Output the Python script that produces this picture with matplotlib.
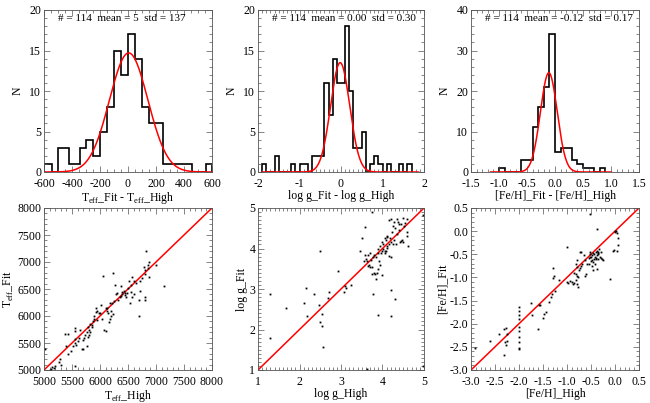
import numpy as np
import matplotlib
matplotlib.use('Agg')
import matplotlib.pyplot as plt
from matplotlib.ticker import MultipleLocator, FormatStrFormatter

plt.rcParams['font.family'] = 'Liberation Serif'
plt.rcParams['mathtext.fontset'] = 'custom'
plt.rcParams['mathtext.rm'] = 'Liberation Serif'
plt.rcParams['axes.unicode_minus'] = False
plt.rcParams['font.size'] = 8.5

# --- histograms (bin edges, counts) ---
teff_edges = [-600, -545, -500, -425, -345, -300, -250, -200, -150, -100, -50, 0,
              50, 100, 150, 250, 455, 555, 600]
teff_counts = [1, 0, 3, 1, 3, 4, 2, 5, 8, 15, 12, 17, 14, 8, 6, 1, 0, 1]

logg_edges = [-1.9, -1.8, -1.6, -1.5, -1.2, -1.1, -1.0, -0.8, -0.7, -0.4, -0.3, -0.2,
              -0.1, 0.1, 0.2, 0.3, 0.5, 0.6, 0.7, 0.8, 0.9, 1.0, 1.1, 1.2, 1.4, 1.5,
              1.6, 1.7]
logg_counts = [1, 0, 2, 0, 1, 0, 1, 0, 2, 11, 7, 14, 11, 18, 10, 3, 5, 0, 1, 2, 1, 0,
               1, 0, 1, 0, 1]

feh_edges = [-1.0, -0.9, -0.6, -0.4, -0.3, -0.2, -0.1, 0.0, 0.1, 0.3, 0.4, 0.5, 0.7,
             0.8, 0.9]
feh_counts = [1, 0, 3, 11, 16, 21, 34, 5, 6, 3, 2, 1, 0, 1]

# gaussian fits: amplitude, centre, sigma, x-range of the drawn curve
teff_fit = (14.7, 5, 137, -600, 600)
logg_fit = (13.5, -0.02, 0.23, -1.9, 1.87)
feh_fit = (24.5, -0.11, 0.15, -1.15, 1.0)

teff_stats = '# = 114  mean = 5  std = 137'
logg_stats = '# = 114  mean = 0.00  std = 0.30'
feh_stats = '# = 114  mean = -0.12  std = 0.17'

# --- scatter: high-res value vs fitted value ---
teff_high = [5030, 5060, 5100, 5130, 5150, 5180, 5200, 5260, 5290, 5310, 5010, 5420,
             5400, 5380, 5430, 5550, 5480, 5520, 5550, 5550, 5560, 5560, 5580, 5600,
             5620, 5650, 5680, 5700, 5700, 5720, 5740, 5760, 5760, 5780, 5800, 5800,
             5780, 5820, 5830, 5850, 5860, 5880, 5900, 5900, 5920, 5930, 5950, 5950,
             5980, 6000, 6020, 6040, 6050, 6070, 6100, 6100, 6120, 6130, 6150, 6170,
             6160, 6180, 6200, 6200, 6220, 6230, 6230, 6250, 6270, 6290, 6300, 6330,
             6350, 6370, 6380, 6400, 6400, 6420, 6440, 6450, 6460, 6480, 6500, 6520,
             6530, 6550, 6560, 6580, 6580, 6600, 6600, 6650, 6700, 6700, 6720, 6720,
             6750, 6780, 6800, 6800, 6800, 6800, 6820, 6850, 6850, 6870, 6880, 7000,
             7150]
teff_fitv = [4980, 4990, 5000, 5020, 5050, 5030, 5080, 5150, 5200, 5100, 5390, 5300,
             5440, 5660, 5670, 5080, 5350, 5450, 5500, 5580, 5720, 5770, 5470, 5540,
             5600, 5750, 5380, 5390, 5550, 5600, 5640, 5450, 5700, 5620, 5640, 5750,
             5800, 5860, 5700, 5830, 5800, 5900, 6000, 5950, 6080, 6150, 6100, 5920,
             6050, 6060, 6200, 5940, 6750, 5750, 5720, 6140, 6150, 6100, 6050, 6250,
             5880, 5950, 6000, 6100, 6250, 6030, 6800, 6270, 6580, 6400, 6420, 6300,
             6350, 6370, 6560, 6400, 6450, 6470, 6380, 6420, 6350, 6430, 6520, 6650,
             6250, 6450, 6580, 6720, 6350, 6650, 6400, 6620, 6300, 6000, 6460, 6650,
             6700, 6900, 6300, 6350, 6850, 6780, 7200, 6950, 6880, 7000, 6730, 6950,
             6550]

logg_high = [1.28, 1.28, 1.68, 2.10, 2.16, 2.18, 2.34, 2.48, 2.50, 2.54, 2.56, 2.54,
             2.50, 2.68, 2.70, 2.92, 3.08, 3.10, 3.12, 3.24, 3.45, 3.50, 3.59, 3.74,
             3.62, 3.55, 3.58, 3.60, 3.62, 3.65, 3.68, 3.70, 3.72, 3.75, 3.78, 3.80,
             3.77, 3.80, 3.82, 3.84, 3.86, 3.88, 3.75, 3.90, 4.00, 3.85, 3.88, 3.90,
             3.92, 3.95, 3.97, 4.00, 4.02, 4.05, 4.05, 4.08, 4.10, 4.12, 4.15, 4.18,
             4.20, 4.20, 4.20, 4.20, 4.22, 4.25, 4.28, 4.30, 4.30, 4.32, 4.35, 4.38,
             4.40, 4.42, 4.45, 4.48, 4.50, 4.52, 4.55, 4.58, 4.60, 4.62, 4.60, 4.15,
             4.20, 4.28, 4.35, 4.40, 4.45, 4.50, 4.08, 4.12, 4.00, 3.95, 4.10, 4.98,
             4.98, 4.02, 4.25, 4.05, 4.15, 3.70, 3.65]
logg_fitv = [1.80, 2.88, 2.52, 2.66, 3.03, 2.34, 2.87, 2.60, 2.19, 2.08, 1.57, 2.38,
             3.95, 2.77, 2.93, 3.45, 2.92, 3.08, 3.02, 3.10, 3.93, 4.25, 4.53, 4.90,
             1.03, 3.70, 3.85, 3.75, 3.68, 3.85, 3.60, 3.55, 3.72, 3.55, 3.80, 3.85,
             2.87, 3.40, 3.36, 3.25, 3.40, 3.50, 3.38, 2.36, 3.35, 3.78, 3.90, 4.00,
             3.70, 3.60, 3.90, 3.95, 4.10, 4.25, 3.95, 4.20, 4.05, 4.30, 4.10, 4.25,
             4.15, 2.97, 2.34, 3.80, 4.40, 4.55, 4.20, 2.75, 4.50, 4.10, 4.35, 4.65,
             4.45, 4.15, 4.60, 4.20, 4.75, 4.55, 4.62, 4.40, 4.30, 4.05, 4.72, 4.70,
             4.72, 4.65, 4.72, 4.60, 4.18, 4.15, 3.95, 4.02, 4.15, 4.05, 4.28, 1.10,
             4.82, 4.00, 4.10, 3.88, 3.82, 3.90, 3.58]

feh_high = [-2.91, -2.61, -2.42, -2.32, -2.28, -2.32, -2.30, -2.27, -2.25, -2.26,
            -2.00, -1.99, -2.00, -1.99, -2.00, -1.99, -2.00, -1.99, -2.00, -1.99,
            -1.76, -1.73, -1.61, -1.59, -1.56, -1.49, -1.47, -1.44, -1.38, -1.33,
            -1.31, -1.30, -1.29, -1.28, -1.26, -1.17,
            -1.00, -1.00, -0.97, -0.93, -0.90, -0.88, -0.85, -0.82, -0.80, -0.78,
            -0.85, -0.82, -0.80, -0.78, -0.82, -0.80, -0.76, -0.72, -0.70, -0.68, -0.80,
            -0.73, -0.70, -0.65, -0.62, -0.58, -0.55, -0.53, -0.52, -0.48, -0.48, -0.45,
            -0.42, -0.52, -0.38, -0.62, -0.60, -0.55, -0.50, -0.47, -0.45, -0.43, -0.40,
            -0.38, -0.36, -0.35, -0.42, -0.40, -0.35, -0.32, -0.30, -0.28, -0.25, -0.30,
            -0.37, -0.50, -0.46, -0.40, -0.10, -0.05, -0.02, 0.00, 0.00, 0.02, 0.05,
            0.07, 0.07, 0.05, -0.35, -0.33, -0.38, -0.44, -0.52]
feh_fitv = [-2.52, -2.37, -2.23, -2.12, -2.10, -2.67, -2.39, -2.45, -2.38, -2.23,
            -1.63, -1.73, -1.81, -1.90, -2.07, -2.15, -2.28, -2.40, -2.52, -2.55,
            -1.55, -1.82, -2.11, -1.59, -1.60, -1.87, -1.79, -1.74, -1.54, -1.43,
            -1.36, -0.79, -1.01, -0.96, -1.30, -1.05,
            -0.34, -1.10, -1.13, -1.08, -1.10, -1.14, -1.11, -1.06, -1.15, -1.20,
            -0.90, -0.93, -0.97, -1.00, -0.70, -0.78, -0.83, -0.80, -0.75, -0.72, -0.62,
            -0.46, -0.45, -0.52, -0.62, -0.72, -0.70, -0.50, -0.46, -0.62, -0.75, -0.85,
            -0.70, 0.37, 0.04, -0.96, -0.93, -0.58, -0.55, -0.52, -0.48, -0.50, -0.45,
            -0.42, -0.48, -0.44, -0.55, -0.58, -0.60, -0.55, -0.58, -0.60, -0.62, -0.45,
            -0.82, -0.65, -0.67, -0.60, -1.03, -0.42, -0.40, -0.02, 0.01, 0.00, -0.04,
            -0.15, -0.30, -0.42, -0.50, -0.38, -0.52, -0.60, -0.56]

fig = plt.figure(figsize=(6.5, 4.03), dpi=100)

W, H = 650.0, 403.0
col_pos = [(44, 212), (258, 424), (471, 639)]


def make_axes(x0, x1, ytop, ybot):
    return fig.add_axes([x0 / W, 1 - ybot / H, (x1 - x0) / W, (ybot - ytop) / H])


def style(ax, xmaj, xmin, ymaj, ymin):
    ax.xaxis.set_major_locator(MultipleLocator(xmaj))
    ax.xaxis.set_minor_locator(MultipleLocator(xmin))
    ax.yaxis.set_major_locator(MultipleLocator(ymaj))
    ax.yaxis.set_minor_locator(MultipleLocator(ymin))
    ax.tick_params(which='both', direction='in', top=True, right=True,
                   color='#555555', width=0.5, labelsize=8.5)
    ax.tick_params(axis='x', pad=4.5)
    ax.tick_params(axis='y', pad=2)
    ax.tick_params(which='major', length=4)
    ax.tick_params(which='minor', length=2)
    for s in ax.spines.values():
        s.set_linewidth(0.6)
        s.set_color('#555555')


hist_sets = [
    (teff_edges, teff_counts, teff_fit, teff_stats, (-600, 600), (0, 20),
     (200, 50, 5, 1), r'T$_{\rm eff}$_Fit - T$_{\rm eff}$_High', None),
    (logg_edges, logg_counts, logg_fit, logg_stats, (-2, 2), (0, 20),
     (1, 0.1, 5, 1), 'log g_Fit - log g_High', None),
    (feh_edges, feh_counts, feh_fit, feh_stats, (-1.5, 1.5), (0, 40),
     (0.5, 0.1, 10, 2), '[Fe/H]_Fit - [Fe/H]_High', '%.1f'),
]

for (x0, x1), (edges, counts, fit, stats, xl, yl, tk, xlab, fmt) in zip(col_pos, hist_sets):
    ax = make_axes(x0, x1, 10, 172)
    ax.stairs(counts, edges, color='black', linewidth=1.2, baseline=0)
    amp, mu, sig, g0, g1 = fit
    gx = np.linspace(g0, g1, 400)
    ax.plot(gx, amp * np.exp(-0.5 * ((gx - mu) / sig) ** 2), color='red', lw=1.1)
    ax.set_xlim(*xl)
    ax.set_ylim(*yl)
    style(ax, *tk)
    if fmt:
        ax.xaxis.set_major_formatter(FormatStrFormatter(fmt))
    ax.set_xlabel(xlab, labelpad=0)
    ax.set_ylabel('N', labelpad=4)
    ax.text(0.085, 0.945, stats, transform=ax.transAxes, ha='left', va='center',
            fontsize=8)

scatter_sets = [
    (teff_high, teff_fitv, (5000, 8000), (500, 100), None,
     r'T$_{\rm eff}$_High', r'T$_{\rm eff}$_Fit'),
    (logg_high, logg_fitv, (1, 5), (1, 0.1), None, 'log g_High', 'log g_Fit'),
    (feh_high, feh_fitv, (-3.0, 0.5), (0.5, 0.1), '%.1f', '[Fe/H]_High', '[Fe/H]_Fit'),
]

for (x0, x1), (xs, ys, lim, tk, fmt, xlab, ylab) in zip(col_pos, scatter_sets):
    ax = make_axes(x0, x1, 208, 370)
    ax.plot(lim, lim, color='red', lw=1.1)
    ax.plot(xs, ys, 's', color='black', ms=1.3, mew=0)
    ax.set_xlim(*lim)
    ax.set_ylim(*lim)
    style(ax, tk[0], tk[1], tk[0], tk[1])
    if fmt:
        ax.xaxis.set_major_formatter(FormatStrFormatter(fmt))
        ax.yaxis.set_major_formatter(FormatStrFormatter(fmt))
    ax.set_xlabel(xlab, labelpad=0)
    ax.set_ylabel(ylab, labelpad=1)

fig.savefig('out.png', dpi=100)
